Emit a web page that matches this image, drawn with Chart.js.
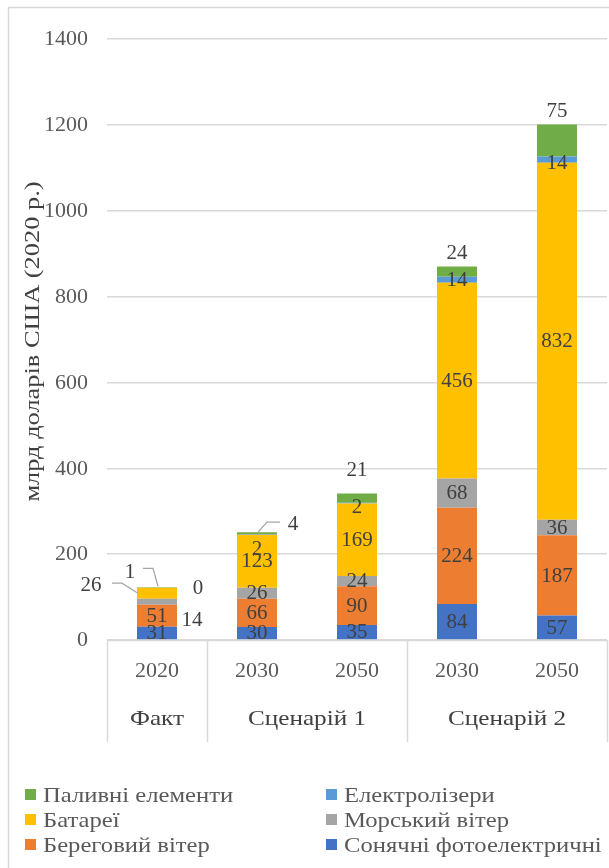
<!DOCTYPE html>
<html><head><meta charset="utf-8">
<script src="https://cdn.jsdelivr.net/npm/chart.js@4.4.0/dist/chart.umd.min.js"></script>
<style>html,body{margin:0;padding:0;background:#fff}</style>
</head><body>
<canvas id="c" width="609" height="868"></canvas>
<script>
// ---- data ----
const years = ['2020', '2030', '2050', '2030', '2050'];
const groups = ['Факт', 'Сценарій 1', 'Сценарій 2'];
const groupSizes = [1, 2, 2];
const seriesNames = ['Сонячні фотоелектричні', 'Береговий вітер', 'Морський вітер', 'Батареї', 'Електролізери', 'Паливні елементи'];
const solarPV = [31, 30, 35, 84, 57];
const onshoreWind = [51, 66, 90, 224, 187];
const offshoreWind = [14, 26, 24, 68, 36];
const batteries = [26, 123, 169, 456, 832];
const electrolyzers = [0, 2, 2, 14, 14];
const fuelCells = [1, 4, 21, 24, 75];
const yTickMax = 1400;
const yTickStep = 200;
const yTitle = 'млрд доларів США (2020 р.)';

// ---- styles ----
const colors = ['#4472C4', '#ED7D31', '#A5A5A5', '#FFC000', '#5B9BD5', '#70AD47'];
const FONT = "'Liberation Serif','Times New Roman',serif";
const seriesValues = [solarPV, onshoreWind, offshoreWind, batteries, electrolyzers, fuelCells];

// label placement tweaks (offsets from segment centre)
const labelTweaks = {
  '2-0': {dx: 35, dy: 18},
  '3-0': {dx: -66, dy: -8, leader: [[-45, -10], [-35, -10], [-19, 0]]},
  '4-0': {dx: 41, dy: 0},
  '5-0': {dx: -27, dy: -16, leader: [[-14, -19], [-4, -19], [1, -1]]},
  '4-1': {dx: 0, dy: 14},
  '5-1': {dx: 36, dy: -9, leader: [[23, -11], [10, -11], [1, -1]]},
  '4-2': {dx: 0, dy: 4},
  '5-2': {dx: 0, dy: -28},
  '5-3': {dx: 0, dy: -19},
  '4-4': {dx: 0, dy: 3},
  '5-4': {dx: 0, dy: -30}
};

function txt(ctx, s, x, y, sx, align, rot) {
  ctx.save();
  ctx.translate(x, y);
  if (rot) ctx.rotate(rot);
  ctx.scale(sx, 1);
  ctx.textAlign = align;
  ctx.textBaseline = 'middle';
  ctx.fillText(s, 0, 0);
  ctx.restore();
}

const customDraw = {
  id: 'customDraw',
  afterDatasetsDraw(chart) {
    const ctx = chart.ctx;
    const xs = chart.scales.x;
    const ys = chart.scales.y;
    const area = chart.chartArea;
    const catW = xs.getPixelForValue(1) - xs.getPixelForValue(0);
    ctx.save();
    // y tick labels
    ctx.fillStyle = '#595959';
    ctx.font = '20px ' + FONT;
    ys.ticks.forEach(t => txt(ctx, String(t.value), area.left - 19, ys.getPixelForValue(t.value) + 1, 1.1, 'right'));
    // y title
    ctx.fillStyle = '#404040';
    ctx.font = '22px ' + FONT;
    txt(ctx, yTitle, 33, (area.top + area.bottom) / 2 + 2, 1.2, 'center', -Math.PI / 2);
    // axis box
    ctx.strokeStyle = '#D9D9D9';
    ctx.lineWidth = 1.5;
    ctx.beginPath();
    ctx.moveTo(area.left, area.bottom + 0.5);
    ctx.lineTo(area.right, area.bottom + 0.5);
    let idx = 0;
    const bounds = [0];
    groupSizes.forEach(s => { idx += s; bounds.push(idx); });
    bounds.forEach(b => {
      const x = Math.round(xs.getPixelForValue(b) - catW / 2) + 0.5;
      ctx.moveTo(x, area.bottom);
      ctx.lineTo(x, area.bottom + 102);
    });
    ctx.stroke();
    // year labels
    ctx.fillStyle = '#595959';
    ctx.font = '20px ' + FONT;
    years.forEach((y, i) => txt(ctx, y, xs.getPixelForValue(i), area.bottom + 32, 1.1, 'center'));
    // group labels
    ctx.fillStyle = '#404040';
    ctx.font = '21px ' + FONT;
    groups.forEach((g, i) => {
      const a = xs.getPixelForValue(bounds[i]) - catW / 2;
      const b = xs.getPixelForValue(bounds[i + 1]) - catW / 2;
      txt(ctx, g, (a + b) / 2, area.bottom + 79, 1.2, 'center');
    });
    // data labels
    ctx.font = '20px ' + FONT;
    chart.data.datasets.forEach((ds, di) => {
      const meta = chart.getDatasetMeta(di);
      meta.data.forEach((el, j) => {
        const v = ds.data[j];
        const cx = el.x, cy = (el.y + el.base) / 2;
        const t = labelTweaks[di + '-' + j] || {dx: 0, dy: 0};
        if (t.leader) {
          ctx.strokeStyle = '#A6A6A6';
          ctx.lineWidth = 1.3;
          ctx.beginPath();
          t.leader.forEach((p, k) => {
            if (k === 0) ctx.moveTo(cx + p[0], cy + p[1]); else ctx.lineTo(cx + p[0], cy + p[1]);
          });
          ctx.stroke();
        }
        ctx.fillStyle = '#404040';
        txt(ctx, String(v), cx + t.dx, cy + t.dy + 1, 1.05, 'center');
      });
    });
    // legend
    const cols = [25, 326];
    const rows = [795, 820, 845];
    ctx.font = '22px ' + FONT;
    const order = chart.data.datasets.map((d, i) => i).reverse();
    order.forEach((di, k) => {
      const col = k % 2, row = Math.floor(k / 2);
      const x = cols[col], y = rows[row];
      ctx.fillStyle = chart.data.datasets[di].backgroundColor;
      ctx.fillRect(x, y - 6, 11, 11);
      ctx.fillStyle = '#595959';
      txt(ctx, chart.data.datasets[di].label, x + 18, y + 1, 1.12, 'left');
    });
    // outer frame
    ctx.strokeStyle = '#D9D9D9';
    ctx.lineWidth = 1.5;
    ctx.strokeRect(8.5, 7.5, 700, 900);
    ctx.restore();
  }
};

new Chart(document.getElementById('c'), {
  type: 'bar',
  data: {
    labels: years,
    datasets: seriesNames.map((n, i) => ({
      label: n,
      data: seriesValues[i],
      backgroundColor: colors[i],
      borderWidth: 0,
      categoryPercentage: 1,
      barPercentage: 0.4
    }))
  },
  options: {
    responsive: false,
    animation: false,
    devicePixelRatio: 1,
    layout: {padding: {left: 20, right: 2, top: 39, bottom: 228}},
    plugins: {legend: {display: false}, tooltip: {enabled: false}},
    scales: {
      x: {display: false, stacked: true},
      y: {
        stacked: true, min: 0, max: yTickMax,
        ticks: {stepSize: yTickStep, display: false},
        grid: {color: '#D9D9D9', lineWidth: 1.5, drawTicks: false},
        border: {display: false},
        title: {display: false},
        afterFit: s => { s.width = 87; }
      }
    }
  },
  plugins: [customDraw]
});
</script>
</body></html>
